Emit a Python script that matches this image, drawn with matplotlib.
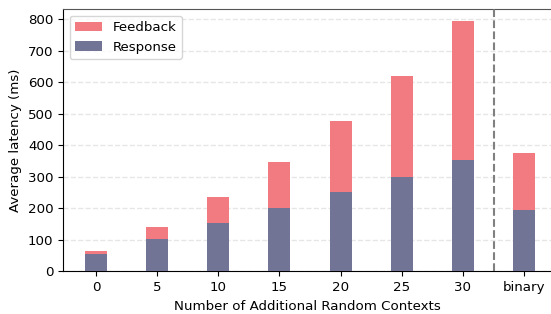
import matplotlib
matplotlib.use('Agg')
import matplotlib.pyplot as plt
import numpy as np

# data
labels = ['0', '5', '10', '15', '20', '25', '30', 'binary']
response = [55, 102, 153, 201, 251, 299, 353, 195]
feedback = [10, 38, 82, 146, 225, 322, 440, 180]

plt.rcParams['font.size'] = 9.6

x = np.arange(len(labels))
width = 0.36

fig = plt.figure(figsize=(5.51, 3.14), dpi=100)
ax = fig.add_axes([0.1143, 0.136, 0.8857, 0.835])

ax.bar(x, response, width, color='#727496', label='Response', zorder=3)
ax.bar(x, feedback, width, bottom=response, color='#f27b81', label='Feedback', zorder=3)

ax.axvline(6.5, color='gray', linestyle='--', linewidth=1.5, zorder=4)

ax.set_xticks(x)
ax.set_xticklabels(labels)
ax.set_xlim(-0.54, 7.44)
ax.set_ylim(0, 832)
ax.set_yticks(range(0, 801, 100))
ax.yaxis.grid(True, linestyle='--', color='#e6e6e6', linewidth=1, zorder=0)
ax.set_axisbelow(True)

ax.spines['right'].set_visible(False)
ax.spines['top'].set_color('#555555')

ax.set_xlabel('Number of Additional Random Contexts')
ax.set_ylabel('Average latency (ms)')

handles, lbls = ax.get_legend_handles_labels()
ax.legend(handles[::-1], lbls[::-1], loc='upper left')

fig.savefig('out.png', dpi=100)
